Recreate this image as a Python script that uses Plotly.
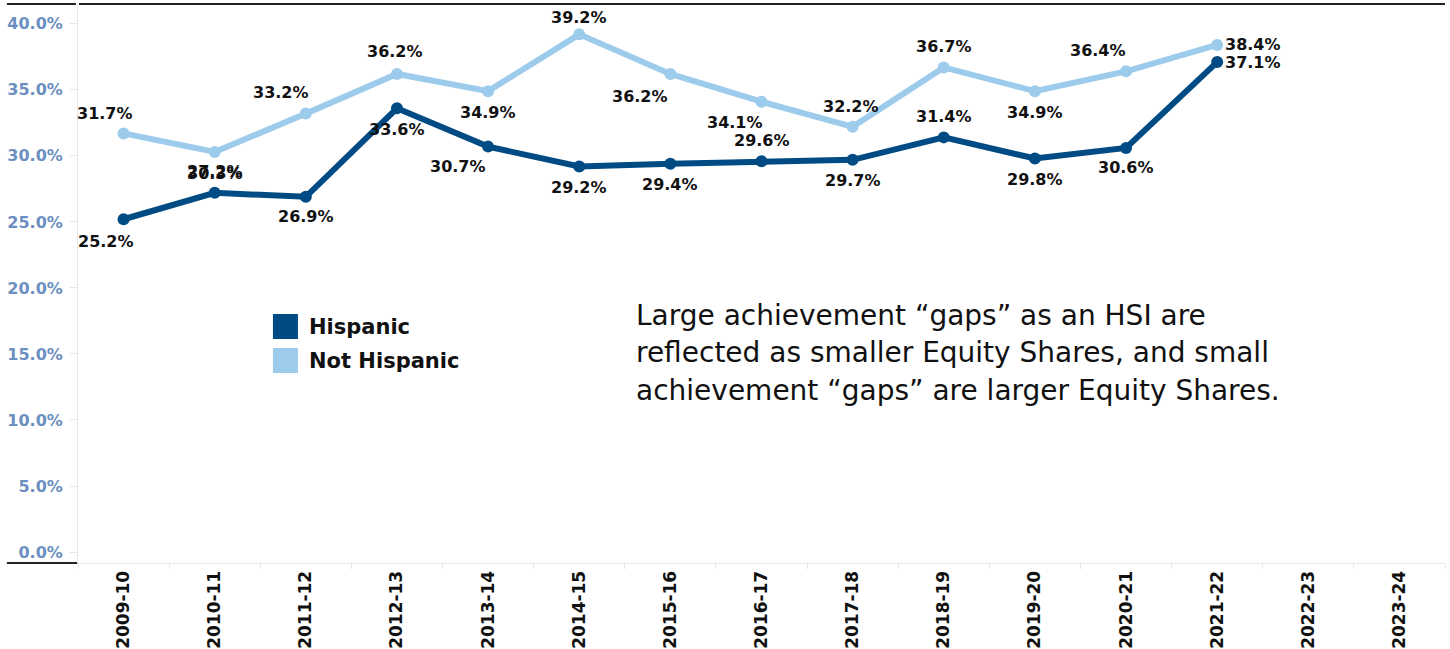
import plotly.graph_objects as go

# ---------------- data ----------------
years = ["2009-10", "2010-11", "2011-12", "2012-13", "2013-14", "2014-15", "2015-16",
         "2016-17", "2017-18", "2018-19", "2019-20", "2020-21", "2021-22", "2022-23", "2023-24"]
hispanic = [25.2, 27.2, 26.9, 33.6, 30.7, 29.2, 29.4, 29.6, 29.7, 31.4, 29.8, 30.6, 37.1]
not_hispanic = [31.7, 30.3, 33.2, 36.2, 34.9, 39.2, 36.2, 34.1, 32.2, 36.7, 34.9, 36.4, 38.4]
series_names = ["Hispanic", "Not Hispanic"]
y_ticks = [0, 5, 10, 15, 20, 25, 30, 35, 40]
y_tick_text = [f"{v:.1f}%" for v in y_ticks]
note_lines = ["Large achievement \u201cgaps\u201d as an HSI are",
              "reflected as smaller Equity Shares, and small",
              "achievement \u201cgaps\u201d are larger Equity Shares."]

# ---------------- styles ----------------
DARK = "#004b84"
LIGHT = "#9dcbec"
TICK_BLUE = "#6b8fc0"
GRID = "#e6e6e6"
BOLD = "DejaVu Sans"

# label offsets (px): (xshift, yshift); "r" = placed right of the point
nh_off = [(-19, 20), (0, -22), (-25, 21), (-2, 22), (0, -21), (0, 17), (-30, -23),
          (-27, -21), (-2, 20), (0, 21), (0, -21), (-28, 21), ("r", 0)]
h_off = [(-18, -22), (0, 21), (0, -20), (0, -21), (-30, -20), (0, -21), (0, -21),
         (0, 21), (0, -21), (0, 21), (0, -21), (0, -20), ("r", 0)]

fig = go.Figure()
fig.add_trace(go.Scatter(x=years[:len(not_hispanic)], y=not_hispanic, mode="lines+markers",
                         name=series_names[1], line=dict(color=LIGHT, width=6),
                         marker=dict(color=LIGHT, size=12), showlegend=False))
fig.add_trace(go.Scatter(x=years[:len(hispanic)], y=hispanic, mode="lines+markers",
                         name=series_names[0], line=dict(color=DARK, width=6),
                         marker=dict(color=DARK, size=12), showlegend=False))

annotations = []
for vals, offs in ((not_hispanic, nh_off), (hispanic, h_off)):
    for x, v, (dx, dy) in zip(years, vals, offs):
        right = dx == "r"
        annotations.append(dict(x=x, y=v, xref="x", yref="y", text=f"{v:.1f}%",
                                showarrow=False, xshift=6 if right else dx, yshift=dy,
                                xanchor="left" if right else "center",
                                font=dict(family=BOLD, size=16, color="#111111", weight="bold")))

# legend drawn manually (large square swatches)
shapes = []
leg_y = [(0.4454, 0.4007), (0.3846, 0.3399)]
for name, col, (y1, y0) in zip(series_names, [DARK, LIGHT], leg_y):
    shapes.append(dict(type="rect", xref="paper", yref="paper", x0=0.1426, x1=0.1609,
                       y0=y0, y1=y1, fillcolor=col, line=dict(width=0)))
    annotations.append(dict(x=0.1675, y=(y0 + y1) / 2, xref="paper", yref="paper", text=name,
                            showarrow=False, xanchor="left", yanchor="middle",
                            font=dict(family=BOLD, size=21, color="#111111", weight="bold")))

for line, yy in zip(note_lines, [0.4419, 0.3757, 0.3077]):
    annotations.append(dict(x=0.4067, y=yy, xref="paper", yref="paper", text=line,
                            showarrow=False, xanchor="left", yanchor="middle",
                            font=dict(family="DejaVu Sans", size=28, color="#111111")))

# frame lines
shapes += [
    dict(type="line", xref="paper", yref="paper", x0=-0.052, x1=-0.0015, y0=1, y1=1,
         line=dict(color="#222222", width=2)),
    dict(type="line", xref="paper", yref="paper", x0=0.0007, x1=1.0, y0=1, y1=1,
         line=dict(color="#222222", width=2)),
    dict(type="line", xref="paper", yref="paper", x0=-0.052, x1=-0.0007, y0=0, y1=0,
         line=dict(color="#222222", width=2)),
]

fig.update_layout(
    width=1450, height=649,
    margin=dict(l=78, r=5, t=4, b=86),
    paper_bgcolor="white", plot_bgcolor="white",
    showlegend=False,
    annotations=annotations, shapes=shapes,
    xaxis=dict(type="category", categoryorder="array", categoryarray=years,
               range=[-0.5, len(years) - 0.5], showgrid=False, zeroline=False,
               showline=True, linecolor=GRID, linewidth=1, automargin=False,
               ticks="outside", tickson="boundaries", ticklen=5, tickcolor=GRID,
               tickangle=-90, tickfont=dict(family=BOLD, size=17, color="#111111", weight="bold")),
    yaxis=dict(range=[-0.83, 41.5], tickvals=y_ticks, ticktext=y_tick_text, automargin=False,
               showgrid=False, zeroline=False, showline=True, linecolor=GRID, linewidth=1,
               ticks="outside", ticklen=7, tickcolor=GRID, ticklabelstandoff=4,
               tickfont=dict(family=BOLD, size=16, color=TICK_BLUE, weight="bold")),
)

fig.write_html("out.html")
